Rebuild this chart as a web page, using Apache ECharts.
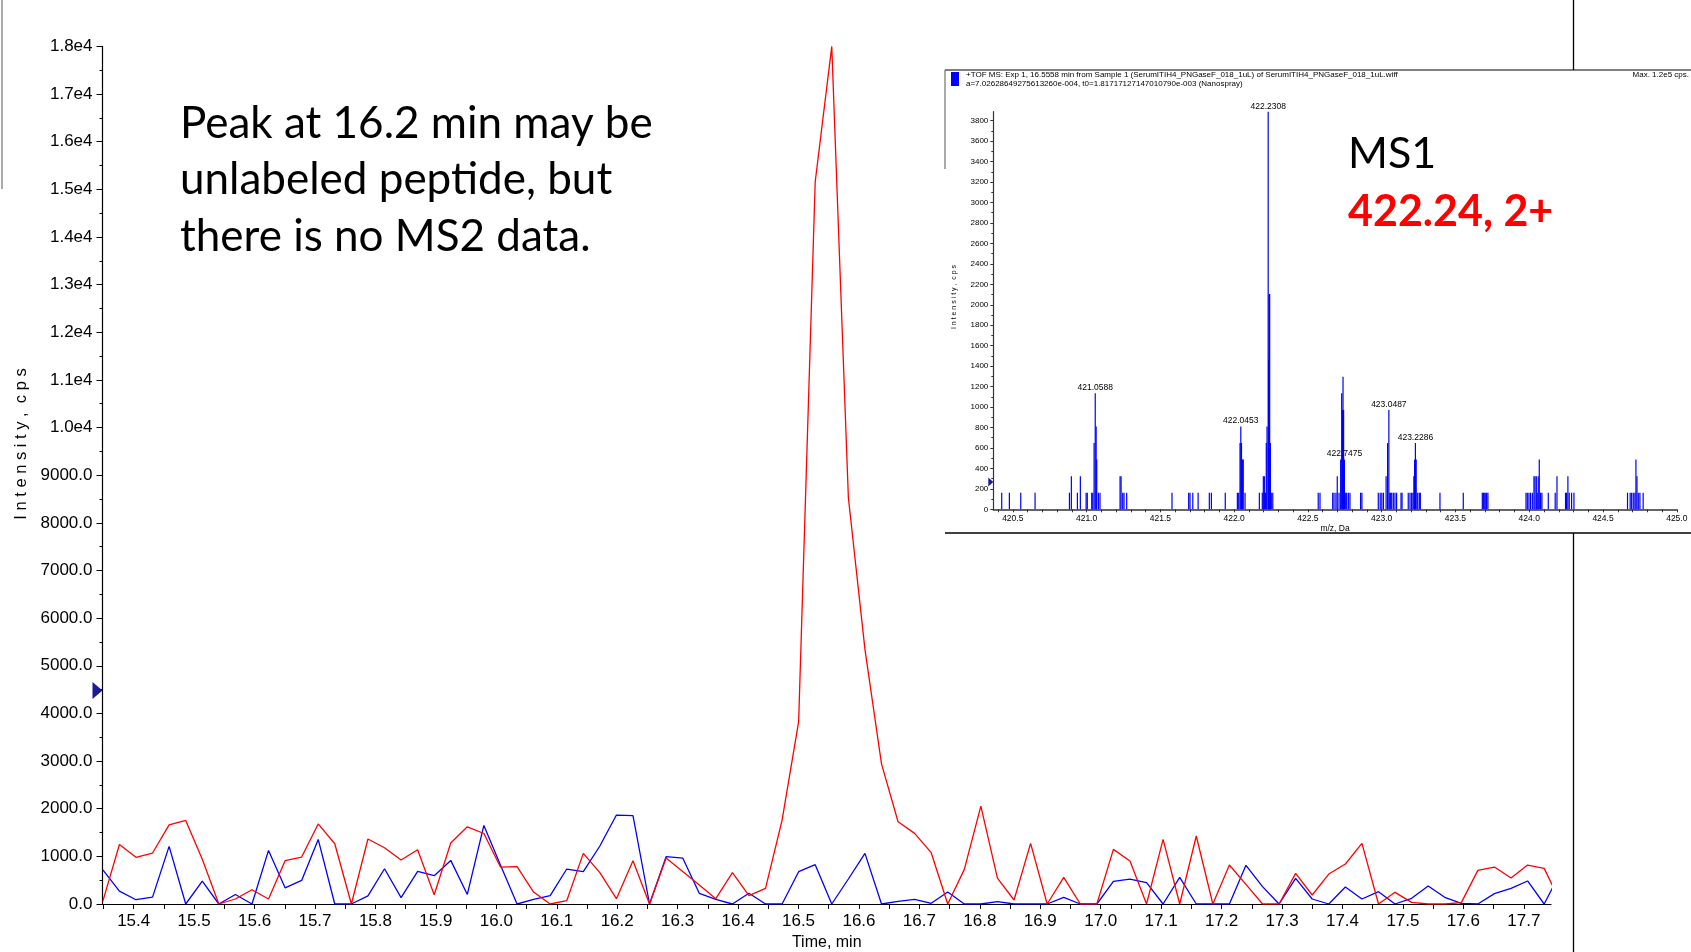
<!DOCTYPE html>
<html>
<head>
<meta charset="utf-8">
<script src="https://cdn.jsdelivr.net/npm/echarts@6/dist/echarts.min.js"></script>
<style>
  html, body { margin: 0; padding: 0; background: #ffffff; }
  #chart { width: 1691px; height: 952px; }
</style>
</head>
<body>
<div id="chart"></div>
<script>
// ---- Extracted ion chromatograms (time in min, intensity in cps) ----
const scanTimes = [
  15.3490, 15.3764, 15.4038, 15.4312, 15.4586, 15.4861, 15.5135, 15.5409, 15.5683, 15.5957,
  15.6231, 15.6505, 15.6779, 15.7053, 15.7327, 15.7602, 15.7876, 15.8150, 15.8424, 15.8698,
  15.8972, 15.9246, 15.9520, 15.9794, 16.0068, 16.0343, 16.0617, 16.0891, 16.1165, 16.1439,
  16.1713, 16.1987, 16.2261, 16.2535, 16.2809, 16.3084, 16.3358, 16.3632, 16.3906, 16.4180,
  16.4454, 16.4728, 16.5002, 16.5276, 16.5550, 16.5825, 16.6099, 16.6373, 16.6647, 16.6921,
  16.7195, 16.7469, 16.7743, 16.8017, 16.8291, 16.8566, 16.8840, 16.9114, 16.9388, 16.9662,
  16.9936, 17.0210, 17.0484, 17.0758, 17.1032, 17.1307, 17.1581, 17.1855, 17.2129, 17.2403,
  17.2677, 17.2951, 17.3225, 17.3499, 17.3773, 17.4048, 17.4322, 17.4596, 17.4870, 17.5144,
  17.5418, 17.5692, 17.5966, 17.6240, 17.6514, 17.6789, 17.7063, 17.7337, 17.7611
];
const xicRed = [
  60, 1250, 980, 1070, 1660, 1755, 940, 0, 105, 300,
  105, 910, 985, 1680, 1265, 0, 1365, 1180, 925, 1140,
  195, 1280, 1620, 1480, 775, 785, 250, 0, 70, 1063,
  657, 112, 909, 0, 965, 680, 400, 112, 657, 175,
  329, 1762, 3830, 15160, 18000, 8527, 5343, 2942, 1727, 1483,
  1077, 0, 727, 2056, 545, 84, 1273, 0, 559, 0,
  0, 1147, 902, 0, 1357, 0, 1427, 0, 818, 413,
  0, 0, 643, 189, 629, 839, 1273, 0, 245, 35,
  0, 0, 28, 706, 776, 545, 818, 748, 35
];
const xicBlue = [
  715, 270, 90, 145, 1210, 0, 480, 0, 200, 0,
  1125, 340, 495, 1355, 0, 0, 170, 740, 135, 685,
  595, 915, 200, 1650, 820, 0, 98, 175, 734, 678,
  1217, 1867, 1853, 0, 993, 965, 224, 98, 0, 224,
  0, 0, 678, 825, 0, 525, 1063, 0, 56, 98,
  14, 252, 0, 0, 49, 0, 0, 0, 140, 0,
  0, 475, 524, 448, 0, 559, 0, 0, 0, 811,
  364, 0, 538, 105, 0, 357, 105, 259, 0, 119,
  378, 140, 14, 0, 217, 329, 483, 0, 670
];
const timeTickLabels = [15.4, 15.5, 15.6, 15.7, 15.8, 15.9, 16.0, 16.1, 16.2, 16.3, 16.4, 16.5,
  16.6, 16.7, 16.8, 16.9, 17.0, 17.1, 17.2, 17.3, 17.4, 17.5, 17.6, 17.7];
const xicMarkerLevel = 4480;

// ---- MS1 spectrum at 16.5558 min (m/z, intensity in cps) ----
const spectrum = [
  [420.425,162],[420.477,162],[420.554,162],[420.651,162],
  [420.884,162],[420.897,324],[420.938,162],[420.958,324],[420.997,162],[421.005,162],
  [421.035,162],[421.042,162],[421.051,648],[421.0588,1134],[421.065,810],[421.069,486],[421.080,162],[421.091,162],
  [421.227,324],[421.234,324],[421.245,162],[421.254,162],[421.272,162],
  [421.579,162],[421.692,162],[421.701,162],[421.720,162],[421.756,162],[421.832,162],[421.846,162],[421.940,162],
  [422.022,162],[422.031,162],[422.040,648],[422.0453,810],[422.050,648],[422.056,486],[422.062,486],[422.074,162],
  [422.171,162],[422.191,162],[422.198,324],[422.205,324],[422.212,162],[422.218,648],[422.223,810],
  [422.2308,3888],[422.234,1458],[422.237,2106],[422.241,2106],[422.246,648],[422.252,162],[422.262,162],
  [422.570,162],[422.582,162],
  [422.668,162],[422.677,162],[422.690,162],[422.699,324],[422.711,162],[422.722,486],[422.729,1134],
  [422.734,972],[422.738,1296],[422.742,972],[422.7475,486],[422.756,162],[422.763,162],[422.774,162],[422.785,162],
  [422.857,162],[422.866,162],
  [422.977,162],[422.990,162],[423.001,162],[423.012,162],[423.030,324],[423.040,648],[423.0487,972],
  [423.055,162],[423.061,162],[423.068,162],[423.079,162],[423.090,162],[423.101,162],[423.131,162],[423.138,162],
  [423.180,162],[423.192,162],[423.203,162],[423.212,162],[423.218,324],[423.223,486],[423.2286,648],
  [423.234,486],[423.244,162],[423.255,162],[423.262,162],
  [423.395,162],[423.553,162],
  [423.682,162],[423.689,162],[423.695,162],[423.702,162],[423.711,162],[423.720,162],
  [423.978,162],[423.987,162],[423.998,162],[424.009,162],[424.021,162],[424.032,324],[424.039,324],
  [424.048,324],[424.054,162],[424.061,324],[424.068,486],[424.077,162],[424.086,162],
  [424.129,162],[424.176,162],[424.188,324],
  [424.246,162],[424.253,162],[424.262,324],[424.271,162],[424.287,162],[424.303,162],
  [424.666,162],[424.684,162],[424.694,162],[424.705,162],[424.716,162],[424.723,486],[424.730,324],
  [424.739,162],[424.750,162],[424.772,162]
];
const labelledPeaks = [421.0588, 422.0453, 422.2308, 422.7475, 423.0487, 423.2286];
const mzTickLabels = [420.5, 421.0, 421.5, 422.0, 422.5, 423.0, 423.5, 424.0, 424.5, 425.0];
const msIntensityTicks = [0, 200, 400, 600, 800, 1000, 1200, 1400, 1600, 1800, 2000, 2200, 2400,
  2600, 2800, 3000, 3200, 3400, 3600, 3800];
const msMarkerLevel = 266;

const chart = echarts.init(document.getElementById('chart'), null, { renderer: 'canvas' });

const AX = 'Liberation Sans, Arial, sans-serif';
const NOTE = 'Lato, "Open Sans", sans-serif';

const redPoints = scanTimes.map((t, i) => [t, xicRed[i]]);
const bluePoints = scanTimes.map((t, i) => [t, xicBlue[i]]);
const specData = spectrum.map(([mz, h]) => labelledPeaks.includes(mz)
  ? { value: [mz, h], label: { show: true, formatter: mz.toFixed(4) } }
  : [mz, h]);

const axisLine = { show: true, lineStyle: { color: '#000', width: 1.2 } };

const option = {
  backgroundColor: '#ffffff',
  animation: false,
  grid: [
    { left: 102.5, top: 46.4, right: 140, bottom: 48, containLabel: false, outerBoundsMode: 'none' },
    { left: 993.3, top: 111.7, width: 683.5, height: 397.6, containLabel: false, outerBoundsMode: 'none' }
  ],
  xAxis: [
    {
      type: 'value', gridIndex: 0, min: 15.3484, max: 17.745, splitNumber: 24,
      name: 'Time, min', nameLocation: 'middle', nameGap: 28,
      nameTextStyle: { fontFamily: AX, fontSize: 16, color: '#000' },
      axisLine,
      axisTick: { show: true, inside: false, length: 5, customValues: timeTickLabels,
        lineStyle: { color: '#000', width: 1 } },
      minorTick: { show: true, splitNumber: 2, length: 5, lineStyle: { color: '#000', width: 1 } },
      axisLabel: { customValues: timeTickLabels, margin: 9, fontFamily: AX, fontSize: 17, color: '#000',
        formatter: v => v.toFixed(1) },
      splitLine: { show: false }, minorSplitLine: { show: false }
    },
    {
      type: 'value', gridIndex: 1, min: 420.368, max: 425.0, splitNumber: 9,
      name: 'm/z, Da', nameLocation: 'middle', nameGap: 13,
      nameTextStyle: { fontFamily: AX, fontSize: 8.5, color: '#000' },
      axisLine: { show: true, lineStyle: { color: '#333', width: 1.5 } },
      axisTick: { show: true, length: 3, customValues: mzTickLabels, lineStyle: { color: '#333', width: 1 } },
      minorTick: { show: true, splitNumber: 5, length: 3, lineStyle: { color: '#333', width: 1 } },
      axisLabel: { customValues: mzTickLabels, margin: 5, fontFamily: AX, fontSize: 8.5, color: '#000',
        formatter: v => v.toFixed(1) },
      splitLine: { show: false }, minorSplitLine: { show: false }
    }
  ],
  yAxis: [
    {
      type: 'value', gridIndex: 0, min: 0, max: 18000, interval: 1000,
      axisLine,
      axisTick: { show: true, length: 6, lineStyle: { color: '#000', width: 1 } },
      minorTick: { show: true, splitNumber: 2, length: 3, lineStyle: { color: '#000', width: 1 } },
      axisLabel: { margin: 10, fontFamily: AX, fontSize: 17, color: '#000',
        formatter: v => v >= 10000 ? (v / 10000).toFixed(1) + 'e4' : v.toFixed(1) },
      splitLine: { show: false }, minorSplitLine: { show: false }
    },
    {
      type: 'value', gridIndex: 1, min: 0, max: 3888, interval: 200,
      axisLine: { show: true, lineStyle: { color: '#333', width: 1.2 } },
      axisTick: { show: true, length: 3, customValues: msIntensityTicks, lineStyle: { color: '#333', width: 1 } },
      minorTick: { show: true, splitNumber: 2, length: 2, lineStyle: { color: '#333', width: 1 } },
      axisLabel: { customValues: msIntensityTicks, margin: 5, fontFamily: AX, fontSize: 8, color: '#000',
        formatter: v => String(Math.round(v)) },
      splitLine: { show: false }, minorSplitLine: { show: false }
    }
  ],
  series: [
    {
      name: 'XIC 1', type: 'line', xAxisIndex: 0, yAxisIndex: 0, data: redPoints,
      showSymbol: false, symbol: 'none', clip: true,
      lineStyle: { color: '#ff0000', width: 1.3 }, itemStyle: { color: '#ff0000' }, z: 3
    },
    {
      name: 'XIC 2', type: 'line', xAxisIndex: 0, yAxisIndex: 0, data: bluePoints,
      showSymbol: false, symbol: 'none', clip: true,
      lineStyle: { color: '#0000ff', width: 1.3 }, itemStyle: { color: '#0000ff' }, z: 2,
      markPoint: {
        silent: true,
        symbol: 'triangle', symbolSize: [17, 10], symbolRotate: -90, symbolOffset: [-5, 0],
        itemStyle: { color: '#1a1a9a' }, label: { show: false },
        data: [{ coord: [15.3484, xicMarkerLevel] }]
      }
    },
    {
      name: 'MS1', type: 'bar', xAxisIndex: 1, yAxisIndex: 1, data: specData,
      barWidth: 1.2, barGap: '-100%',
      itemStyle: { color: '#0000ff' },
      label: { show: false, position: 'top', distance: 1, fontFamily: AX, fontSize: 8.5, color: '#000' },
      markPoint: {
        silent: true,
        symbol: 'triangle', symbolSize: [9, 5], symbolRotate: -90, symbolOffset: [-2.5, 0],
        itemStyle: { color: '#1a1a9a' }, label: { show: false },
        data: [{ coord: [420.368, msMarkerLevel] }]
      }
    }
  ],
  graphic: [
    // frame lines around the spectrum panel
    { type: 'line', shape: { x1: 945, y1: 70, x2: 1691, y2: 70 }, style: { stroke: '#000', lineWidth: 1 } },
    { type: 'line', shape: { x1: 945, y1: 533, x2: 1691, y2: 533 }, style: { stroke: '#000', lineWidth: 1.5 } },
    { type: 'line', shape: { x1: 945, y1: 70, x2: 945, y2: 169 }, style: { stroke: '#555', lineWidth: 1 } },
    { type: 'line', shape: { x1: 1573.5, y1: 0, x2: 1573.5, y2: 70 }, style: { stroke: '#000', lineWidth: 1.3 } },
    { type: 'line', shape: { x1: 1573.5, y1: 533, x2: 1573.5, y2: 952 }, style: { stroke: '#000', lineWidth: 1.3 } },
    { type: 'line', shape: { x1: 2, y1: 0, x2: 2, y2: 189 }, style: { stroke: '#555', lineWidth: 1 } },
    { type: 'rect', shape: { x: 951, y: 72, width: 8, height: 14 }, style: { fill: '#0000ff' } },
    // spectrum header
    { type: 'text', x: 966, y: 75, style: { text: '+TOF MS: Exp 1, 16.5558 min from Sample 1 (SerumITIH4_PNGaseF_018_1uL) of SerumITIH4_PNGaseF_018_1uL.wiff',
      font: '8px ' + AX, fill: '#000', verticalAlign: 'middle' } },
    { type: 'text', x: 966, y: 84, style: { text: 'a=7.02628649275613260e-004, t0=1.81717127147010790e-003 (Nanospray)',
      font: '8px ' + AX, fill: '#000', verticalAlign: 'middle' } },
    { type: 'text', x: 1689, y: 75, style: { text: 'Max. 1.2e5 cps.', font: '8px ' + AX, fill: '#000',
      align: 'right', verticalAlign: 'middle' } },
    // axis titles
    { type: 'text', x: 21.6, y: 444, rotation: Math.PI / 2,
      style: { text: 'I n t e n s i t y ,  c p s', font: '16.5px ' + AX, fill: '#000', align: 'center', verticalAlign: 'middle' } },
    { type: 'text', x: 954.5, y: 297, rotation: Math.PI / 2,
      style: { text: 'I n t e n s i t y ,  c p s', font: '7px ' + AX, fill: '#000', align: 'center', verticalAlign: 'middle' } },
    // notes
    { type: 'text', x: 180, y: 124, style: { text: 'Peak at 16.2 min may be', font: '44px ' + NOTE, fill: '#000', verticalAlign: 'middle' } },
    { type: 'text', x: 180, y: 180, style: { text: 'unlabeled peptide, but', font: '44px ' + NOTE, fill: '#000', verticalAlign: 'middle' } },
    { type: 'text', x: 180, y: 237, style: { text: 'there is no MS2 data.', font: '44px ' + NOTE, fill: '#000', verticalAlign: 'middle' } },
    { type: 'text', x: 1348, y: 154, style: { text: 'MS1', font: '43px ' + NOTE, fill: '#000', verticalAlign: 'middle' } },
    { type: 'text', x: 1348, y: 212, style: { text: '422.24, 2+', font: 'bold 43px ' + NOTE, fill: '#ff0000', verticalAlign: 'middle' } }
  ]
};

chart.setOption(option);
</script>
</body>
</html>
